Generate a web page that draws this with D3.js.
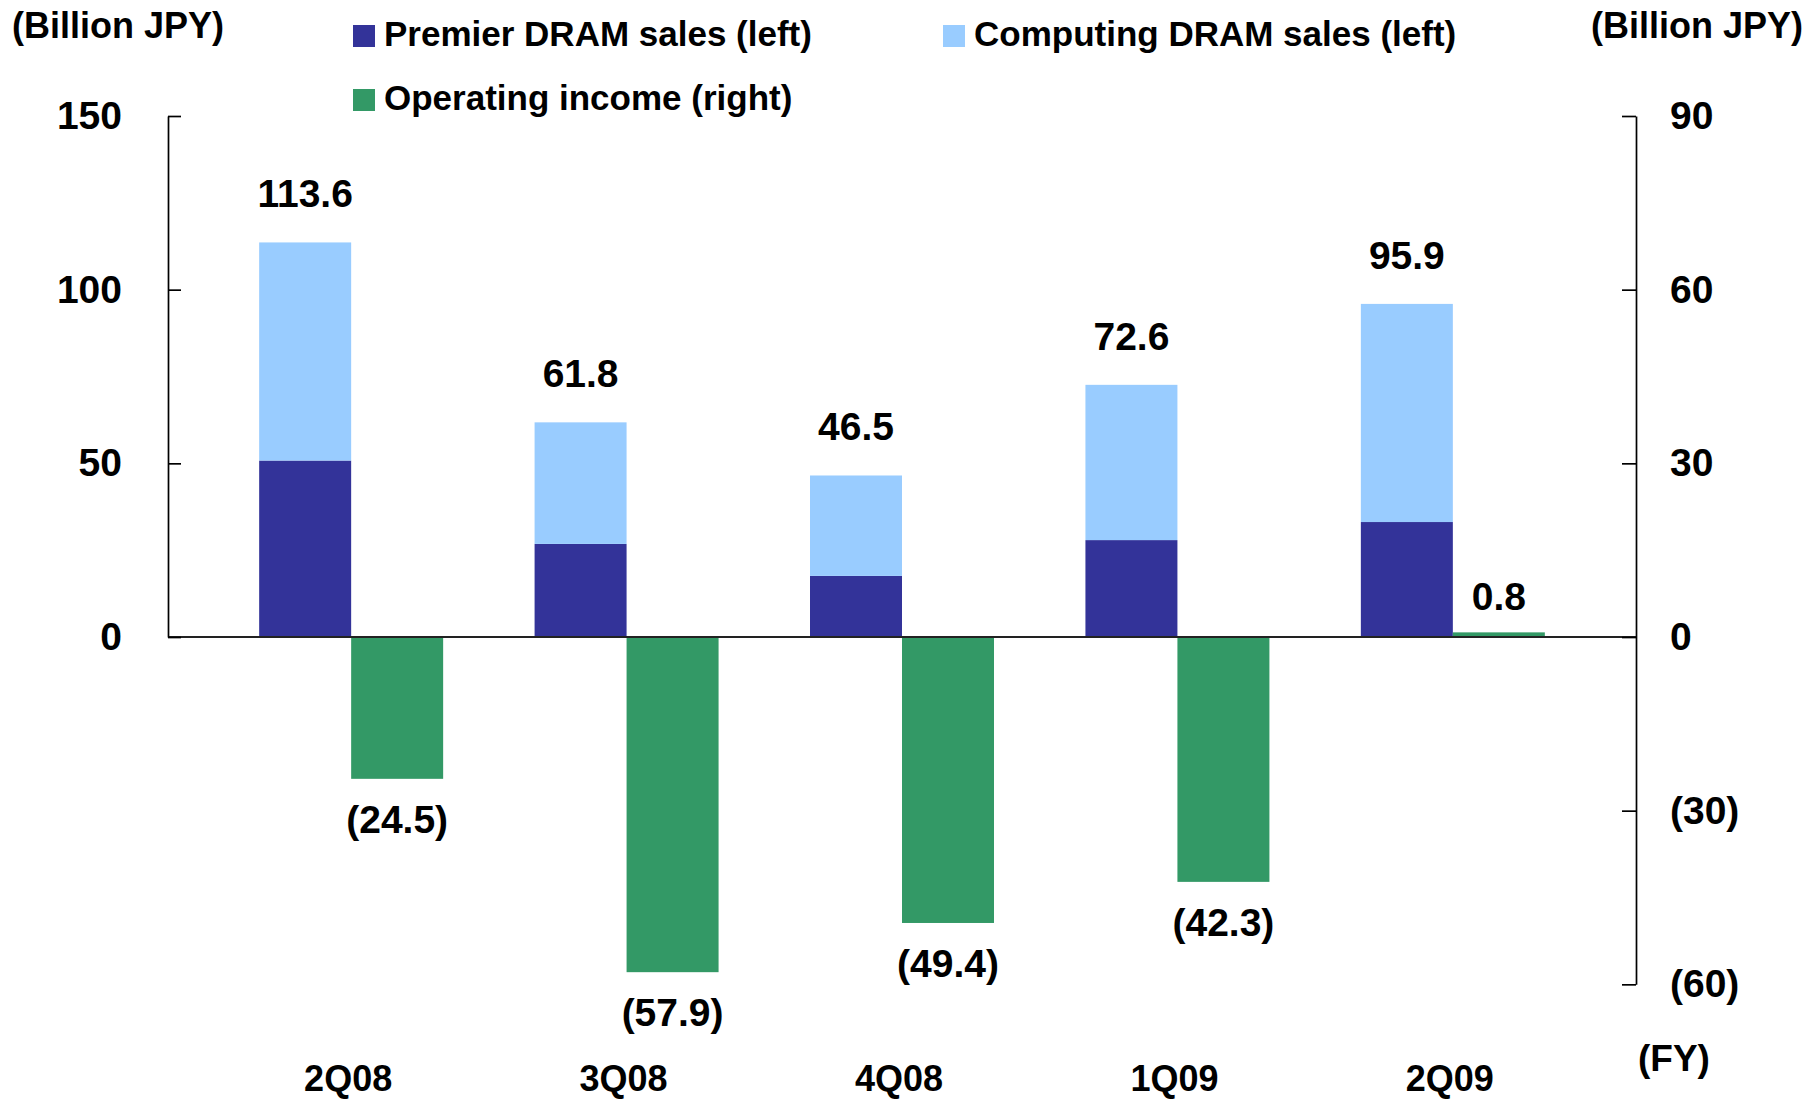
<!DOCTYPE html>
<meta charset="utf-8">
<script src="https://d3js.org/d3.v7.min.js"></script>
<style>
  body { margin: 0; background: #fff; overflow: hidden; }
  svg { display: block; }
  text { font-family: "Liberation Sans", Arial, sans-serif; font-weight: bold; fill: #000; }
</style>
<div id="chart"></div>
<script>
// chart values
var quarters = ["2Q08", "3Q08", "4Q08", "1Q09", "2Q09"];
var premierSales = [50.8, 26.8, 17.6, 27.9, 33.1];
var computingSales = [62.8, 35.0, 28.9, 44.7, 62.8];
var totalSales = [113.6, 61.8, 46.5, 72.6, 95.9];
var operatingIncome = [-24.5, -57.9, -49.4, -42.3, 0.8];
var leftTicks = [0, 50, 100, 150];
var rightTicks = [-60, -30, 0, 30, 60, 90];

var width = 1809, height = 1101;
var axisLeftX = 168, axisRightX = 1636;

var svg = d3.select("#chart")
  .append("svg")
    .attr("width", width)
    .attr("height", height);

// scales
var x = d3.scalePoint()
  .domain(quarters)
  .range([axisLeftX, axisRightX])
  .padding(0.665);
var barW = x.step() * 0.334;

var yL = d3.scaleLinear().domain([0, 150]).range([637, 116]);
var yR = d3.scaleLinear().domain([-60, 90]).range([yL(-100), 116]);

var fmt = function(d) { return d < 0 ? "(" + d3.format(".1f")(-d) + ")" : d3.format(".1f")(d); };

// stacked sales bars
var data = quarters.map(function(q, i) {
  return { q: q, premier: premierSales[i], computing: computingSales[i], total: totalSales[i], op: operatingIncome[i] };
});

var g = svg.append("g");

g.selectAll(".premier")
  .data(data)
  .enter().append("rect")
    .attr("x", function(d) { return x(d.q) - barW; })
    .attr("y", function(d) { return yL(d.premier); })
    .attr("width", barW)
    .attr("height", function(d) { return yL(0) - yL(d.premier); })
    .style("fill", "#333399");

g.selectAll(".computing")
  .data(data)
  .enter().append("rect")
    .attr("x", function(d) { return x(d.q) - barW; })
    .attr("y", function(d) { return yL(d.premier + d.computing); })
    .attr("width", barW)
    .attr("height", function(d) { return yL(d.premier) - yL(d.premier + d.computing); })
    .style("fill", "#99CCFF");

// operating income bars (right axis)
g.selectAll(".op")
  .data(data)
  .enter().append("rect")
    .attr("x", function(d) { return x(d.q); })
    .attr("y", function(d) { return yR(Math.max(0, d.op)); })
    .attr("width", barW)
    .attr("height", function(d) { return Math.abs(yR(d.op) - yR(0)); })
    .style("fill", "#339966");

// zero line
svg.append("line")
  .attr("x1", axisLeftX).attr("x2", axisRightX)
  .attr("y1", yL(0)).attr("y2", yL(0))
  .style("stroke", "#222").style("stroke-width", 2.2);

// axes
var leftAxis = svg.append("g")
  .attr("transform", "translate(" + axisLeftX + ",0)")
  .call(d3.axisLeft(yL).tickValues(leftTicks).tickSize(-13).tickSizeOuter(0).tickPadding(46));

var rightAxis = svg.append("g")
  .attr("transform", "translate(" + axisRightX + ",0)")
  .call(d3.axisRight(yR).tickValues(rightTicks).tickSize(-14).tickSizeOuter(0).tickPadding(34)
    .tickFormat(function(d) { return d < 0 ? "(" + (-d) + ")" : d; }));

[leftAxis, rightAxis].forEach(function(ax) {
  ax.select(".domain").style("stroke", "#000").style("stroke-width", 1.7);
  ax.selectAll(".tick line").style("stroke", "#000").style("stroke-width", 1.7);
  ax.selectAll(".tick text")
    .style("font-family", "'Liberation Sans', Arial, sans-serif")
    .style("font-weight", "bold")
    .style("font-size", "39px")
    .style("fill", "#000");
});

// data labels
g.selectAll(".totLabel")
  .data(data)
  .enter().append("text")
    .attr("x", function(d) { return x(d.q) - barW / 2; })
    .attr("y", function(d) { return yL(d.total) - 35; })
    .attr("text-anchor", "middle")
    .style("font-size", "39px")
    .text(function(d) { return fmt(d.total); });

g.selectAll(".opLabel")
  .data(data)
  .enter().append("text")
    .attr("x", function(d) { return x(d.q) + barW / 2; })
    .attr("y", function(d) { return d.op < 0 ? yR(d.op) + 54 : yR(d.op) - 22; })
    .attr("text-anchor", "middle")
    .style("font-size", "39px")
    .text(function(d) { return fmt(d.op); });

// category labels
svg.selectAll(".cat")
  .data(quarters)
  .enter().append("text")
    .attr("x", function(d) { return x(d) - 3; })
    .attr("y", 1091)
    .attr("text-anchor", "middle")
    .style("font-size", "36px")
    .text(function(d) { return d; });

svg.append("text")
  .attr("x", 1638).attr("y", 1071)
  .style("font-size", "37px")
  .text("(FY)");

// unit labels
svg.append("text")
  .attr("x", 12).attr("y", 38)
  .style("font-size", "36px")
  .text("(Billion JPY)");

svg.append("text")
  .attr("x", 1803).attr("y", 38)
  .attr("text-anchor", "end")
  .style("font-size", "36px")
  .text("(Billion JPY)");

// legend
var legendItems = [
  { label: "Premier DRAM sales (left)", color: "#333399", x: 353, y: 25 },
  { label: "Computing DRAM sales (left)", color: "#99CCFF", x: 943, y: 25 },
  { label: "Operating income (right)", color: "#339966", x: 353, y: 89 }
];

var legend = svg.selectAll(".legend")
  .data(legendItems)
  .enter().append("g")
    .attr("transform", function(d) { return "translate(" + d.x + "," + d.y + ")"; });

legend.append("rect")
  .attr("width", 22).attr("height", 22)
  .style("fill", function(d) { return d.color; });

legend.append("text")
  .attr("x", 31).attr("y", 21)
  .style("font-size", "35px")
  .text(function(d) { return d.label; });
</script>
